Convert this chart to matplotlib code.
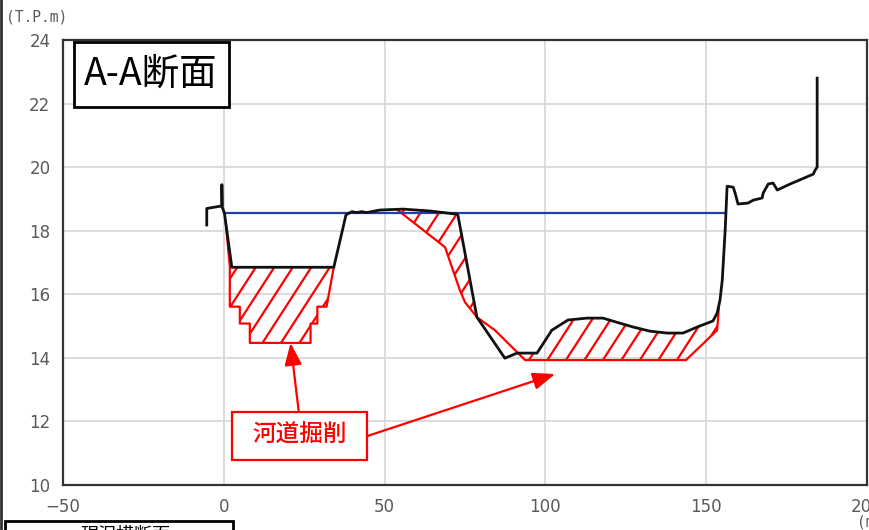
import numpy as np
import matplotlib
matplotlib.use("Agg")
import matplotlib.pyplot as plt
from matplotlib.patches import Rectangle, Polygon
from matplotlib.lines import Line2D

plt.rcParams['font.family'] = ['Noto Sans CJK JP', 'DejaVu Sans']

# ---- existing ground profile (distance m, elevation T.P.m) ----
ground_x = [-5.3, -5.3, -0.6, -0.6, -0.5, 0.2, 2.5, 34.2, 38.0, 39.8, 41.3, 42.9,
            44.4, 48.5, 55.7, 64.1, 72.5, 72.8, 78.7, 87.4, 91.2, 97.4, 102.0,
            107.0, 112.9, 117.9, 123.2, 127.3, 132.5, 137.8, 142.8, 147.2, 152.1,
            153.4, 154.3, 155.0, 155.9, 156.5, 158.4, 159.0, 159.9, 163.0, 164.6,
            167.4, 167.7, 169.3, 170.8, 172.1, 176.1, 183.3, 183.9, 184.5, 184.5]
ground_y = [18.18, 18.70, 18.78, 19.45, 18.75, 18.55, 16.85, 16.85, 18.50, 18.60,
            18.57, 18.60, 18.57, 18.65, 18.68, 18.62, 18.52, 18.49, 15.28, 13.99,
            14.15, 14.15, 14.87, 15.19, 15.25, 15.25, 15.09, 14.97, 14.84, 14.78,
            14.78, 14.97, 15.16, 15.41, 15.82, 16.45, 18.02, 19.40, 19.37, 19.18,
            18.84, 18.87, 18.96, 19.03, 19.18, 19.47, 19.50, 19.28, 19.47, 19.78,
            19.91, 20.00, 22.80]

# ---- planned excavation line ----
cut_left_x = [0.6, 1.87, 1.87, 4.98, 4.98, 8.09, 8.09, 26.98, 26.98, 29.09, 29.09, 31.95, 34.2]
cut_left_y = [18.25, 16.87, 15.61, 15.61, 15.08, 15.08, 14.47, 14.47, 15.08, 15.08, 15.61, 15.61, 16.85]
cut_mid_x = [53.8, 61.0, 68.8, 73.4, 75.0, 78.7, 84.3, 93.7, 143.7, 153.4, 154.0]
cut_mid_y = [18.67, 18.10, 17.48, 16.13, 15.75, 15.28, 14.87, 13.93, 13.93, 14.87, 15.65]

# ---- water level ----
wl_x = [0.0, 155.6]
wl_y = [18.55, 18.55]

xticks = [-50, 0, 50, 100, 150, 200]
yticks = [10, 12, 14, 16, 18, 20, 22, 24]

W, H = 870, 530
fig = plt.figure(figsize=(W / 100, H / 100), dpi=100)
ax = fig.add_axes([63 / W, 45 / H, (867 - 63) / W, 445 / H])
ax.set_xlim(-50, 200)
ax.set_ylim(10, 24)
ax.set_xticks(xticks)
ax.set_yticks(yticks)
ax.grid(True, color='#d9d9d9', lw=1.3)
ax.set_axisbelow(True)
ax.tick_params(length=0, labelsize=12, labelcolor='#595959', pad=9)
for lab in ax.get_xticklabels() + ax.get_yticklabels():
    lab.set_family(['Liberation Sans Narrow', 'DejaVu Sans'])
for sp in ax.spines.values():
    sp.set_color('#333333')
    sp.set_linewidth(1.6)

gx = np.array(ground_x)
gy = np.array(ground_y)


def segment(xs, ys, xa, xb):
    xs = np.asarray(xs)
    ys = np.asarray(ys)
    m = (xs > xa) & (xs < xb)
    sx = np.concatenate([[xa], xs[m], [xb]])
    sy = np.concatenate([[np.interp(xa, xs, ys)], ys[m], [np.interp(xb, xs, ys)]])
    return sx, sy


# monotone middle part of the ground line used for the cut polygons
core = slice(5, 36)
cgx, cgy = gx[core], gy[core]

polys = []
# left channel
tx, ty = segment(cgx, cgy, 0.6, 34.2)
polys.append(np.column_stack([np.concatenate([cut_left_x, tx[::-1]]),
                              np.concatenate([cut_left_y, ty[::-1]])]))
# middle bank and river bed
for xa, xb in [(53.8, 78.7), (91.0, 154.0)]:
    tx, ty = segment(cgx, cgy, xa, xb)
    bx, by = segment(cut_mid_x, cut_mid_y, xa, xb)
    polys.append(np.column_stack([np.concatenate([tx, bx[::-1]]),
                                  np.concatenate([ty, by[::-1]])]))

# diagonal hatching clipped to each cut area
xppu = (867 - 63) / 250.0
yppu = 445 / 14.0
slope_px = 1.55
m_data = slope_px * xppu / yppu
spacing = 18.5 / xppu
for p in polys:
    patch = Polygon(p, closed=True, facecolor='none', edgecolor='none')
    ax.add_patch(patch)
    x0s = np.arange(-60, 200, spacing)
    for c in x0s:
        xx = np.array([c - 30, c + 30])
        yy = 14.0 + m_data * (xx - c)
        ln, = ax.plot(xx, yy, color='#ff0000', lw=1.6, solid_capstyle='butt')
        ln.set_clip_path(patch)

# excavation outline
ax.plot(cut_left_x, cut_left_y, color='#ff0000', lw=1.6)
ax.plot(cut_mid_x, cut_mid_y, color='#ff0000', lw=1.6)

# water level and ground
ax.plot(wl_x, wl_y, color='#1f3fa6', lw=1.6)
ax.plot(ground_x, ground_y, color='#111111', lw=2.0)

# section title
ax.add_patch(Rectangle((-46.7, 21.9), 48.2, 2.05, transform=ax.transData,
                       facecolor='white', edgecolor='black', lw=2, zorder=5))
ax.text(-22.6, 22.92, 'A-A断面', fontsize=27, ha='center', va='center',
        color='black', zorder=6)

# annotation box with arrows
ax.add_patch(Rectangle((2.5, 10.79), 42.1, 1.52, facecolor='white',
                       edgecolor='#ff0000', lw=1.6, zorder=5))
ax.text(23.5, 11.55, '河道掘削', fontsize=17, ha='center', va='center',
        color='#ff0000', fontweight='medium', zorder=6)
arrow = dict(arrowstyle='-|>,head_length=0.9,head_width=0.35', color='#ff0000',
             lw=1.6, mutation_scale=15, shrinkA=0, shrinkB=0)
ax.annotate('', xy=(20.75, 14.47), xytext=(23.3, 12.31), arrowprops=arrow, zorder=6)
ax.annotate('', xy=(103.0, 13.49), xytext=(44.6, 11.54), arrowprops=arrow, zorder=6)

# axis unit labels
fig.text(6 / W, 1 - 17 / H, '(T.P.m)', fontsize=10.5, color='#595959',
         family=['DejaVu Sans Mono'], ha='left', va='center')
fig.text(857 / W, 1 - 522 / H, '(m)', fontsize=10.5, color='#595959',
         family=['DejaVu Sans Mono'], ha='left', va='center')

# legend frame at the bottom and page border
fig.patches.append(Rectangle((5 / W, -0.05), 228 / W, 0.05 + 9 / H,
                             transform=fig.transFigure, facecolor='white',
                             edgecolor='black', lw=2))
fig.lines.append(Line2D([20 / W, 30 / W], [-3 / H, -3 / H], transform=fig.transFigure,
                        color='black', lw=2))
fig.text(80 / W, -5 / H, '現況横断面', fontsize=13, color='black',
         ha='left', va='center')
fig.lines.append(Line2D([1.5 / W, 1.5 / W], [0, 1], transform=fig.transFigure,
                        color='#333333', lw=2))

fig.savefig('out.png', dpi=100)
